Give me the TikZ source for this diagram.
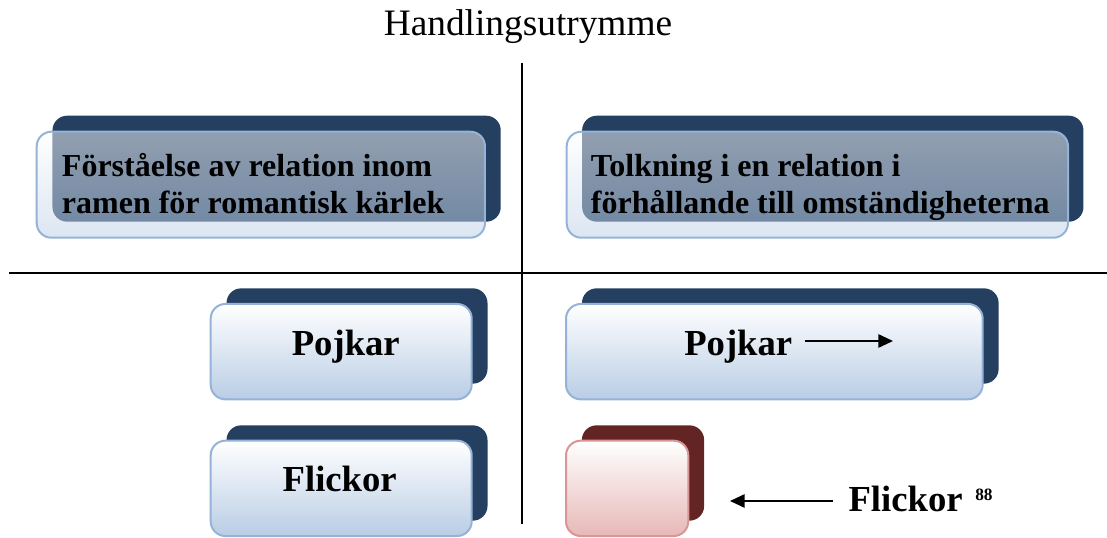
\documentclass[tikz,border=0pt]{standalone}
\usepackage{fontspec}
\setmainfont{Liberation Serif}
\usetikzlibrary{arrows.meta}
\definecolor{darkbk}{RGB}{36,63,96}
\definecolor{lightbl}{RGB}{185,205,229}
\definecolor{bordbl}{RGB}{149,179,215}
\definecolor{darkred}{RGB}{99,37,35}
\definecolor{lightpk}{RGB}{230,185,184}
\definecolor{bordpk}{RGB}{217,150,148}
\tikzset{
  backbox/.style={rectangle, rounded corners=11pt, fill=darkbk, inner sep=0pt},
  frontbox/.style={rectangle, rounded corners=11pt, top color=white, bottom color=lightbl, draw=bordbl, line width=1.5pt, inner sep=0pt},
  glassbox/.style={frontbox, fill opacity=0.5},
  backred/.style={backbox, fill=darkred},
  frontred/.style={frontbox, bottom color=lightpk, draw=bordpk},
  headtxt/.style={font=\bfseries\fontsize{24}{27.75}\selectfont, align=left, inner sep=0pt},
  bigtxt/.style={font=\bfseries\fontsize{27.5}{33}\selectfont, inner sep=0pt},
  divider/.style={line width=1.1pt},
  pointer/.style={line width=1.3pt, -{Triangle[length=11pt,width=10pt]}}
}
\begin{document}
\begin{tikzpicture}[x=0.75pt,y=-0.75pt]
\useasboundingbox (0,0) rectangle (1107,538);
% dividers
\coordinate (vtop) at (522,63);
\coordinate (vbot) at (522,524);
\coordinate (hl) at (9,273);
\coordinate (hr) at (1107,273);
\draw[divider] (vtop) -- (vbot);
\draw[divider] (hl) -- (hr);
% title
\node[font=\fontsize{28}{33}\selectfont, anchor=base, inner sep=0pt] (title) at (528,36) {Handlingsutrymme};
% top left
\node[backbox, minimum width=336.2pt, minimum height=79.5pt] (b1back) at (276.6,168.7) {};
\node[glassbox, minimum width=336.2pt, minimum height=79.5pt] (b1) at (260.85,184.7) {};
\node[headtxt, anchor=base west] (t1) at (61.7,214) {Förståelse av relation inom\\ramen för romantisk kärlek};
% top right
\node[backbox, minimum width=376pt, minimum height=79.5pt] (b2back) at (832.8,168.7) {};
\node[glassbox, minimum width=376pt, minimum height=79.5pt] (b2) at (817.35,184.7) {};
\node[headtxt, anchor=base west] (t2) at (590.7,214) {Tolkning i en relation i\\förhållande till omständigheterna};
% left Pojkar
\node[backbox, minimum width=195.75pt, minimum height=71.5pt] (p1back) at (357,336) {};
\node[frontbox, minimum width=195.75pt, minimum height=71.5pt] (p1) at (341.2,351.65) {};
\node[bigtxt, anchor=base] (p1t) at (345.8,355) {Pojkar};
% left Flickor
\node[backbox, minimum width=195.75pt, minimum height=71.5pt] (f1back) at (357,473) {};
\node[frontbox, minimum width=195.75pt, minimum height=71.5pt] (f1) at (341.2,488.35) {};
\node[bigtxt, anchor=base] (f1t) at (339.7,491.7) {Flickor};
% right Pojkar
\node[backbox, minimum width=312.5pt, minimum height=71.5pt] (p2back) at (790.3,336) {};
\node[frontbox, minimum width=312.5pt, minimum height=71.5pt] (p2) at (774.35,351.65) {};
\node[bigtxt, anchor=base west] (p2t) at (684,355) {Pojkar};
\coordinate (p2end) at (893,341);
\draw[pointer] (p2t.east |- p2end) ++(13,0) coordinate (p2start) -- (p2end);
% pink box
\node[backred, minimum width=91.7pt, minimum height=71.5pt] (rback) at (643,473) {};
\node[frontred, minimum width=91.7pt, minimum height=71.5pt] (r) at (627.15,488.35) {};
% right Flickor
\node[bigtxt, anchor=base west] (f2t) at (848.3,511.7) {Flickor};
\node[font=\bfseries\fontsize{13}{15}\selectfont, anchor=base west, inner sep=0pt] (fn) at (975,500) {88};
\coordinate (f2start) at (833,501);
\coordinate (f2end) at (730,501);
\draw[pointer] (f2start) -- (f2end);
\end{tikzpicture}
\end{document}
